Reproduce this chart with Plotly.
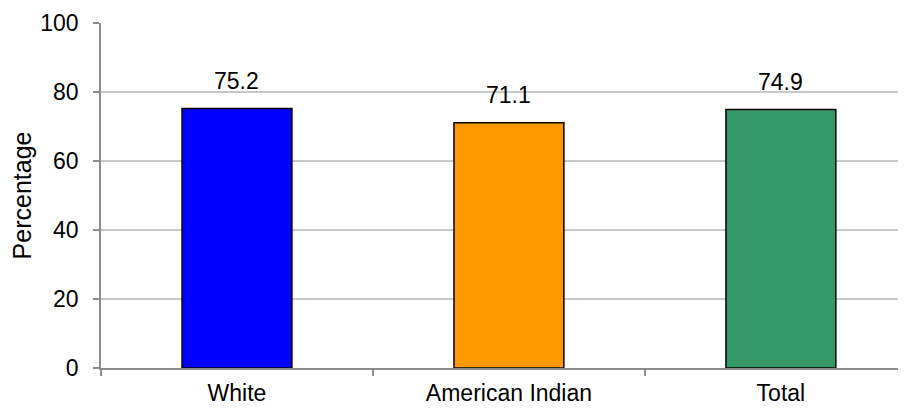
import plotly.graph_objects as go

categories = ["White", "American Indian", "Total"]
values = [75.2, 71.1, 74.9]
bar_colors = ["#0000FF", "#FF9900", "#339966"]
y_tick_values = [0, 20, 40, 60, 80, 100]
y_title = "Percentage"

font_family = "Arial, Liberation Sans, sans-serif"

fig = go.Figure()
fig.add_trace(go.Bar(
    x=categories,
    y=values,
    width=0.404,
    marker=dict(color=bar_colors, line=dict(color="#000000", width=1.5)),
    hoverinfo="skip",
))

for c, v in zip(categories, values):
    fig.add_annotation(x=c, y=v, text=f"{v:.1f}", showarrow=False,
                       yanchor="bottom", yshift=13,
                       font=dict(family=font_family, size=23, color="#000000"))

# page body has an 8px default margin, so the figure is sized/margined to compensate
fig.update_layout(
    width=898, height=400,
    margin=dict(l=93, r=0, t=15, b=40),
    paper_bgcolor="white", plot_bgcolor="white",
    showlegend=False,
    font=dict(family=font_family, size=23, color="#000000"),
    xaxis=dict(
        range=[-0.5, 2.46],
        automargin=False,
        tickson="boundaries",
        ticks="outside", ticklen=6, tickcolor="#8C8C8C", tickwidth=1.5,
        showline=True, linecolor="#8C8C8C", linewidth=1.5,
        showgrid=False,
        ticklabelstandoff=4,
        tickfont=dict(size=23),
    ),
    yaxis=dict(
        range=[0, 100],
        automargin=False,
        tickvals=y_tick_values,
        ticks="outside", ticklen=6, tickcolor="#8C8C8C", tickwidth=1.5,
        showline=True, linecolor="#8C8C8C", linewidth=1.5,
        showgrid=True, gridcolor="#C8C8C8", gridwidth=1.5,
        zeroline=False,
        ticklabelstandoff=10,
        title=dict(text=y_title, font=dict(size=25), standoff=6),
        tickfont=dict(size=23),
    ),
)

fig.write_html("out.html")
